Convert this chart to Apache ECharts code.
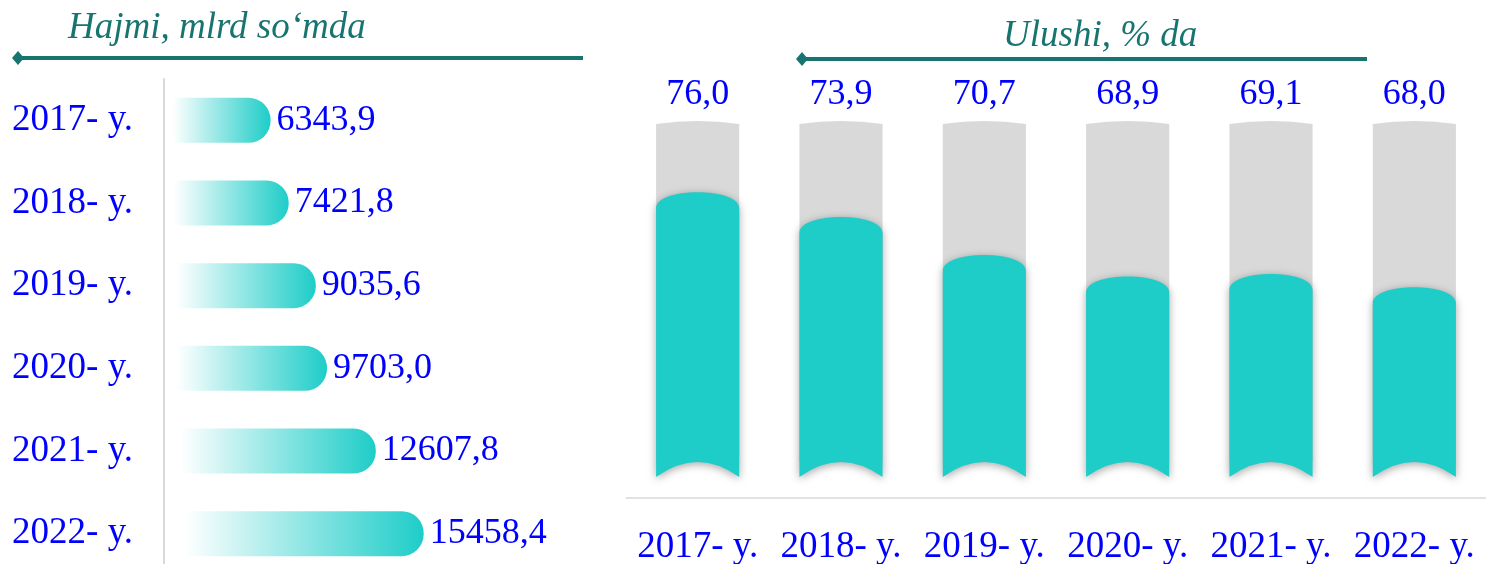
<!DOCTYPE html>
<html lang="uz">
<head>
<meta charset="UTF-8">
<title>Hajmi va ulushi</title>
<script src="https://cdn.jsdelivr.net/npm/echarts@6/dist/echarts.min.js"></script>
</head>
<body style="margin:0;background:#fff">
<div id="main" style="width:1486px;height:564px;"></div>
<script>
// data
var years = ['2017- y.', '2018- y.', '2019- y.', '2020- y.', '2021- y.', '2022- y.'];
var volume = [6343.9, 7421.8, 9035.6, 9703.0, 12607.8, 15458.4]; // mlrd so'm
var share = [76.0, 73.9, 70.7, 68.9, 69.1, 68.0];                 // %

var volumeMax = 20000;
var shareMin = 52, shareMax = 82;

var blue = '#0000FF';
var teal = '#1ECDC8';
var dark = '#17746F';
var serif = '"Liberation Serif", "Times New Roman", serif';

function fmt(v) {
    return v.toFixed(1).replace('.', ',');
}

var myChart = echarts.init(document.getElementById('main'));

// right columns: grey tube + teal fill with rounded top / concave bottom
function renderTube(params, api) {
    var i = api.value(0);
    var top = api.coord([i, api.value(1)]);
    var base = api.coord([i, shareMin]);
    var full = api.coord([i, shareMax]);
    var w = api.size([1, 0])[0] * 0.58;
    var cx = top[0], x0 = cx - w / 2, x1 = cx + w / 2;
    var ry = 16, by = 15;
    var ty = top[1] + ry;
    var gy = full[1];
    var b = base[1];

    var grey = 'M' + x0 + ' ' + (gy + 3) + ' Q' + cx + ' ' + (gy - 3) + ' ' + x1 + ' ' + (gy + 3) +
        ' L' + x1 + ' ' + (b - by) + ' L' + x0 + ' ' + (b - by) + ' Z';
    var fill = 'M' + x0 + ' ' + ty +
        ' C' + x0 + ' ' + (ty - ry * 4 / 3) + ' ' + x1 + ' ' + (ty - ry * 4 / 3) + ' ' + x1 + ' ' + ty +
        ' L' + x1 + ' ' + b +
        ' Q' + cx + ' ' + (b - 2 * by) + ' ' + x0 + ' ' + b + ' Z';

    return {
        type: 'group',
        children: [
            { type: 'path', shape: { pathData: grey }, style: { fill: '#D9D9D9' } },
            {
                type: 'path', shape: { pathData: fill },
                style: { fill: teal, shadowBlur: 8, shadowColor: 'rgba(0,0,0,0.35)', shadowOffsetY: 2 }
            },
            {
                type: 'text',
                style: {
                    text: fmt(api.value(1)), x: cx, y: gy - 26,
                    align: 'center', verticalAlign: 'middle',
                    textAlign: 'center', textVerticalAlign: 'middle',
                    font: '36px ' + serif, fill: blue
                }
            }
        ]
    };
}

var option = {
    animation: false,
    grid: [
        { left: 164, top: 79, width: 336, height: 496, outerBoundsMode: 'none' },
        { left: 626, right: 0, top: 121, bottom: 87, outerBoundsMode: 'none' }
    ],
    xAxis: [
        { type: 'value', gridIndex: 0, min: 0, max: volumeMax, show: false },
        {
            type: 'category', gridIndex: 1, data: years, offset: 21,
            axisLine: { lineStyle: { color: '#D9D9D9', width: 1.5 } },
            axisTick: { show: false },
            axisLabel: { interval: 0, margin: 31, color: blue, fontSize: 37, fontFamily: serif }
        }
    ],
    yAxis: [
        {
            type: 'category', gridIndex: 0, data: years, inverse: true, z: 5,
            axisLine: { lineStyle: { color: '#D9D9D9', width: 2 } },
            axisTick: { show: false },
            axisLabel: { interval: 0, margin: 31, color: blue, fontSize: 37, fontFamily: serif }
        },
        { type: 'value', gridIndex: 1, min: shareMin, max: shareMax, show: false }
    ],
    series: [
        {
            type: 'bar',
            xAxisIndex: 0,
            yAxisIndex: 0,
            data: volume,
            barWidth: 45,
            itemStyle: {
                borderRadius: [0, 22, 22, 0],
                color: new echarts.graphic.LinearGradient(0, 0, 1, 0, [
                    { offset: 0, color: '#FFFFFF' },
                    { offset: 0.08, color: '#FFFFFF' },
                    { offset: 1, color: teal }
                ])
            },
            label: {
                show: true, position: 'right', distance: 6,
                color: blue, fontSize: 36, fontFamily: serif,
                formatter: function (p) { return fmt(p.value); }
            }
        },
        {
            type: 'custom',
            xAxisIndex: 1,
            yAxisIndex: 1,
            data: share.map(function (v, i) { return [i, v]; }),
            renderItem: renderTube
        }
    ],
    graphic: [
        {
            type: 'text', left: 68, top: 10,
            style: { text: 'Hajmi, mlrd so‘mda', font: 'italic 37px ' + serif, fill: dark }
        },
        { type: 'line', shape: { x1: 20, y1: 58, x2: 583, y2: 58 }, style: { stroke: dark, lineWidth: 4 } },
        { type: 'polygon', shape: { points: [[12, 58], [18, 51], [24, 58], [18, 65]] }, style: { fill: dark } },
        {
            type: 'text', left: 1003, top: 18,
            style: { text: 'Ulushi, % da', font: 'italic 37px ' + serif, fill: dark }
        },
        { type: 'line', shape: { x1: 804, y1: 59, x2: 1367, y2: 59 }, style: { stroke: dark, lineWidth: 4 } },
        { type: 'polygon', shape: { points: [[796, 59], [802, 52], [808, 59], [802, 66]] }, style: { fill: dark } }
    ]
};

myChart.setOption(option);
</script>
</body>
</html>
